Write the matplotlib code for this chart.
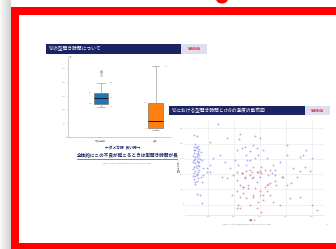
import matplotlib
matplotlib.use("Agg")
import matplotlib.pyplot as plt
from matplotlib.patches import Rectangle, Ellipse
import numpy as np

plt.rcParams['font.family'] = ['Noto Sans CJK JP', 'DejaVu Sans']

W, H = 336, 249

# ---------------- data ----------------
slide1_title = "Y2の型開き時間について"
slide2_title = "Y2における型開き時間とch9の温度の散布図"
box_labels = ["不良発生時", "良品"]
box_med = [144, 59]
box_q1 = [122, 33]
box_q3 = [163, 126]
box_lo = [111, 26]
box_hi = [200, 259]
box_fliers = [[226, 237, 244], []]
box_colors = ["#1f77b4", "#ff7f0e"]
box_yticks = [0, 50, 100, 150, 200, 250]

blue_x = [45, 55, 50, 60, 45, 55, 65, 50, 60, 45, 55, 65, 50, 60, 45, 55, 65, 50, 60, 45,
          55, 65, 50, 60, 45, 55, 50, 60, 45, 55, 50, 48, 62, 42, 58, 68, 40, 52, 66, 42,
          58, 70, 40, 48, 62, 70, 44, 52, 75, 78,
          139, 106, 171, 222, 219, 281, 300, 210, 229, 242, 261, 274, 287, 313, 326, 351,
          377, 403, 403, 455, 468, 429, 442, 474, 403, 364, 339, 326, 300, 274, 255, 235,
          222, 210, 197, 184, 164, 145, 119, 106, 94, 81, 74, 68, 55, 74, 94, 106, 171,
          152, 248, 261, 281, 293, 306, 319, 332, 345, 358, 287, 268, 242, 229, 216, 203,
          246, 251, 261, 274, 293, 300, 319, 339, 351, 390, 422, 500, 519, 480, 500, 416,
          377, 222, 210, 190]
blue_y = [228, 223, 198, 193, 190, 185, 181, 178, 174, 170, 166, 163, 157, 152, 146, 143,
          141, 135, 130, 124, 119, 114, 110, 106, 103, 97, 94, 88, 84, 78, 73, 67, 170, 160,
          160, 150, 140, 128, 125, 115, 100, 92, 95, 150, 138, 172, 180, 188, 145, 120,
          263, 204, 217, 230, 215, 223, 219, 179, 184, 187, 174, 195, 184, 179, 152, 130,
          141, 195, 163, 157, 163, 119, 92, 124, 64, 64, 70, 43, 32, 32, 53, 59,
          64, 81, 97, 119, 141, 163, 152, 130, 108, 97, 75, 32, 34, 4, 119, 108, 86,
          92, 130, 146, 152, 163, 124, 114, 97, 103, 114, 75, 86, 86, 103, 130, 146,
          163, 146, 114, 124, 108, 92, 59, 32, 10, 92, 70, -1, -17, 179, 152, 21,
          -1, 26, -12, 32]
red_x = [212, 229, 248, 268, 287, 300, 306, 242, 261, 274, 235, 255, 281, 300, 313, 326,
         216, 248, 274, 293, 313, 332, 358, 384, 455, 493, 455, 222, 261, 287, 306, 210,
         235, 339, 358]
red_y = [108, 103, 110, 108, 108, 110, 103, 92, 97, 92, 59, 64, 53, 43, 32, 64,
         -1, 21, 26, 10, 15, 67, 77, 92, 110, 110, 26, -12, -1, -12, -23, 43,
         37, 114, 97]
scatter_xticks = [100, 200, 300, 400, 500]
scatter_yticks = [0, 50, 100, 150, 200, 250]


def frac(l, t, r, b):
    return [l / W, 1 - b / H, (r - l) / W, (b - t) / H]


fig = plt.figure(figsize=(W / 100, H / 100), dpi=100)
fig.patch.set_facecolor("white")

bg = fig.add_axes([0, 0, 1, 1], zorder=0)
bg.axis("off")
grad = np.linspace(0.97, 0.82, 20).reshape(1, -1)
bg.imshow(grad, extent=(0, 11, H, 0), cmap="gray", vmin=0, vmax=1, aspect="auto")
bg.set_xlim(0, W)
bg.set_ylim(H, 0)

red = "#ff0000"
bg.add_patch(Ellipse((222, -1), 12, 9, color=red, lw=0))
bg.add_patch(Rectangle((11, 7), W - 11, 7.5, color=red, lw=0))
bg.add_patch(Rectangle((11, 7), 8, H - 7, color=red, lw=0))
bg.add_patch(Rectangle((11, 243), W - 11, 6, color=red, lw=0))

navy = "#1b2362"
light = "#dedeec"
# slide 1 header
bg.add_patch(Rectangle((46, 44), 135, 9.5, color=navy, lw=0))
bg.add_patch(Rectangle((181, 44), 26, 9.5, color=light, lw=0))
bg.text(48, 48.9, slide1_title, color="white", fontsize=3.4, va="center", ha="left")
bg.text(194, 48.9, "YAMAHA", color="#d0203a", fontsize=2.3, va="center", ha="center",
        fontweight="bold")
bg.text(71, 61, "型開き時間(s)", color="#777777", fontsize=1.8, rotation=90,
        va="center", ha="center")
bg.text(123, 148, "←ダメな時  良い時→", color="#1b2362", fontsize=2.7, va="center",
        ha="center", fontweight="bold")
bg.text(77, 156, "全体的にこの不良が起こるときは型開き時間が長", color="#1b2362",
        fontsize=3.3, va="center", ha="left", fontweight="bold")
bg.plot([77, 178], [158.6, 158.6], color="#1b2362", lw=0.4)
bg.text(127, 163, "Copyright (c) Yamaha Motor Co., Ltd. All Rights Reserved.",
        color="#888888", fontsize=1.3, va="center", ha="center")

# ---------------- box plot ----------------
axb = fig.add_axes(frac(68, 58, 171, 137), zorder=1)
stats = []
for i in range(2):
    stats.append(dict(med=box_med[i], q1=box_q1[i], q3=box_q3[i], whislo=box_lo[i],
                      whishi=box_hi[i], fliers=box_fliers[i], label=box_labels[i]))
bp = axb.bxp(stats, positions=[1, 2], widths=0.27, patch_artist=True,
             boxprops=dict(lw=0.4, edgecolor="#666666"),
             medianprops=dict(color="#1a1a2a", lw=0.7),
             whiskerprops=dict(color="#999999", lw=0.45),
             capprops=dict(color="#999999", lw=0.45),
             flierprops=dict(marker="o", markersize=1.3, markerfacecolor="none",
                             markeredgecolor="#888888", markeredgewidth=0.35))
for patch, c in zip(bp["boxes"], box_colors):
    patch.set_facecolor(c)
axb.set_xlim(0.394, 2.284)
axb.set_ylim(0, 290)
axb.set_yticks(box_yticks)
axb.tick_params(labelsize=1.6, length=1, width=0.3, colors="#888888", pad=0.6)
for s in ["top", "right"]:
    axb.spines[s].set_visible(False)
for s in ["left", "bottom"]:
    axb.spines[s].set_color("#aaaaaa")
    axb.spines[s].set_linewidth(0.4)
for i in range(2):
    p = i + 1
    axb.text(p + 0.17, box_hi[i], str(box_hi[i]), fontsize=1.2, color="#888888", va="center")
    axb.text(p + 0.17, box_med[i], str(box_med[i]), fontsize=1.2, color="#888888", va="center")
    axb.text(p + 0.17, box_lo[i], str(box_lo[i]), fontsize=1.2, color="#888888", va="center")
    axb.text(p - 0.17, box_q3[i], str(box_q3[i]), fontsize=1.2, color="#888888", va="center", ha="right")
    axb.text(p - 0.17, box_q1[i], str(box_q1[i]), fontsize=1.2, color="#888888", va="center", ha="right")

# ---------------- slide 2 overlay ----------------
fg = fig.add_axes([0, 0, 1, 1], zorder=2)
fg.axis("off")
fg.patch.set_alpha(0)
fg.set_xlim(0, W)
fg.set_ylim(H, 0)
fg.add_patch(Rectangle((178, 115), 154, 127, color="white", lw=0))
fg.add_patch(Rectangle((169, 106), 136, 9, color=navy, lw=0))
fg.add_patch(Rectangle((305, 106), 25, 9, color=light, lw=0))
fg.text(171, 110.6, slide2_title, color="white", fontsize=3.4, va="center", ha="left")
fg.text(317.5, 110.6, "YAMAHA", color="#d0203a", fontsize=2.3, va="center", ha="center",
        fontweight="bold")
fg.text(178, 165, "型開き時間(s)", color="#888888", fontsize=1.6, rotation=90,
        va="center", ha="center")
fg.text(253, 220, "温度(℃)", color="#888888", fontsize=1.6, va="center", ha="center")
fg.text(247, 224.5, "Copyright (c) Yamaha Motor Co., Ltd. All Rights Reserved.",
        color="#888888", fontsize=1.3, va="center", ha="center")
fg.text(328, 224.5, "15", color="#888888", fontsize=1.6, va="center", ha="center")

# ---------------- scatter ----------------
axs = fig.add_axes(frac(185, 120, 324, 215), zorder=3)
axs.scatter(blue_x, blue_y, s=1.8, color="#7878f0", alpha=0.6, lw=0)
axs.scatter(red_x, red_y, s=1.8, color="#e06070", alpha=0.65, lw=0)
axs.set_xlim(10, 548)
axs.set_ylim(-34, 277)
axs.set_xticks(scatter_xticks)
axs.set_yticks(scatter_yticks)
axs.grid(True, color="#e6e6e6", lw=0.4)
axs.set_axisbelow(True)
axs.tick_params(labelsize=1.6, length=0, colors="#888888", pad=0.8)
for s in ["top", "right", "left"]:
    axs.spines[s].set_visible(False)
axs.spines["bottom"].set_color("#d8d8d8")
axs.spines["bottom"].set_linewidth(0.4)

fig.savefig("out.png", dpi=100)
